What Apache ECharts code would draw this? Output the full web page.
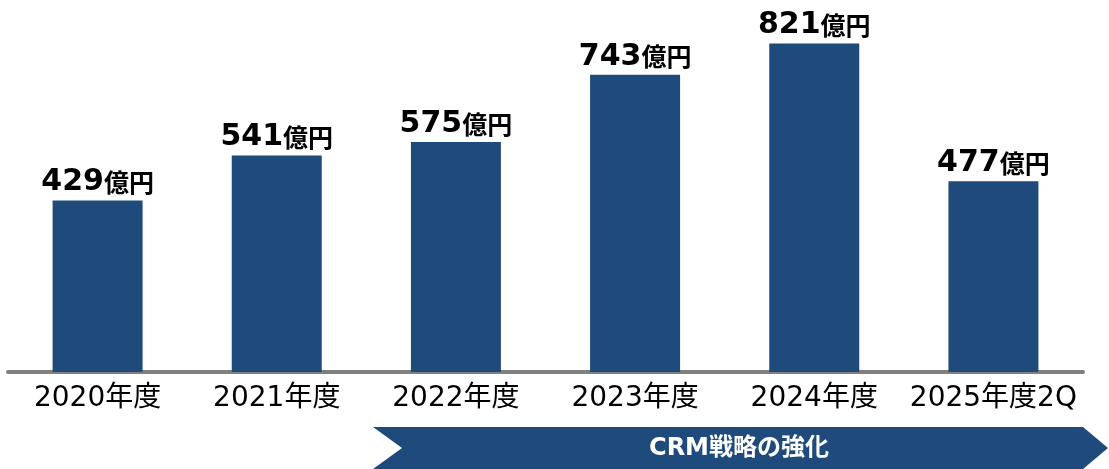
<!DOCTYPE html>
<html>
<head>
<meta charset="utf-8">
<script src="https://cdn.jsdelivr.net/npm/echarts@6/dist/echarts.min.js"></script>
<style>
  html, body { margin: 0; padding: 0; background: #fff; }
  #chart { width: 1109px; height: 469px; }
</style>
</head>
<body>
<div id="chart"></div>
<script>
// categories and values (億円)
const years = ['2020年度', '2021年度', '2022年度', '2023年度', '2024年度', '2025年度2Q']
const sales = [429, 541, 575, 743, 821, 477]
const unit = '億円'
const bannerText = 'CRM戦略の強化'

const navy = '#1F4A7C'
const chart = echarts.init(document.getElementById('chart'))

chart.setOption({
  animation: false,
  grid: {
    left: 8,
    right: 26,
    top: 12,
    bottom: 97
  },
  xAxis: {
    type: 'category',
    data: years,
    axisLine: {
      lineStyle: { color: '#808080', width: 4 }
    },
    axisTick: { show: false },
    axisLabel: {
      interval: 0,
      color: '#000',
      fontSize: 28,
      fontFamily: '"DejaVu Sans", "Noto Sans CJK JP"',
      margin: 13
    }
  },
  yAxis: {
    type: 'value',
    min: 0,
    max: 900,
    show: false,
    splitLine: { show: false }
  },
  series: [{
    type: 'bar',
    data: sales,
    barWidth: 90,
    itemStyle: { color: navy },
    label: {
      show: true,
      position: 'top',
      distance: 2,
      formatter: function(p) {
        return '{n|' + p.value + '}{u|' + unit + '}'
      },
      rich: {
        n: {
          fontFamily: '"DejaVu Sans"',
          fontWeight: 'bold',
          fontSize: 30,
          color: '#000',
          lineHeight: 32,
          verticalAlign: 'middle'
        },
        u: {
          fontFamily: '"Noto Sans CJK JP"',
          fontWeight: 'bold',
          fontSize: 25,
          color: '#000',
          lineHeight: 26,
          verticalAlign: 'middle'
        }
      }
    }
  }],
  graphic: [
    {
      type: 'polygon',
      shape: {
        points: [[373, 427], [1083, 427], [1108, 448], [1083, 469], [373, 469], [402, 448]]
      },
      style: { fill: navy }
    },
    {
      type: 'text',
      x: 739,
      y: 449,
      style: {
        text: bannerText,
        fill: '#fff',
        fontSize: 24,
        fontWeight: 'bold',
        fontFamily: '"DejaVu Sans", "Noto Sans CJK JP"',
        align: 'center',
        verticalAlign: 'middle'
      }
    }
  ]
})
</script>
</body>
</html>
